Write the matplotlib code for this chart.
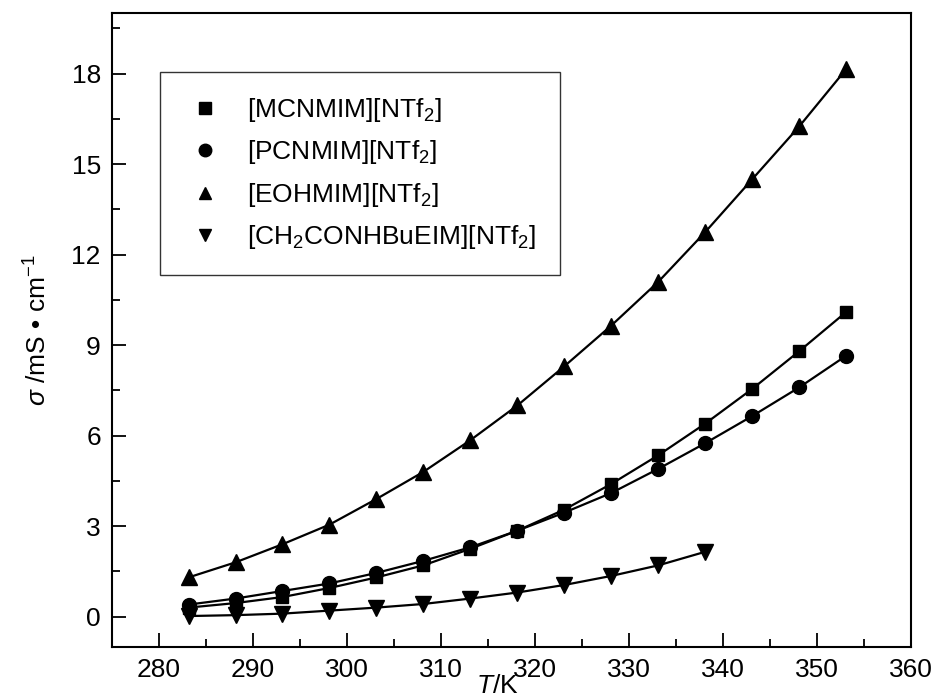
import matplotlib
matplotlib.use("Agg")
import matplotlib.pyplot as plt
from matplotlib.ticker import MultipleLocator

plt.rcParams["font.family"] = ["Liberation Sans", "DejaVu Sans"]
plt.rcParams["mathtext.fontset"] = "custom"
plt.rcParams["mathtext.rm"] = "Liberation Sans"
plt.rcParams["mathtext.it"] = "Liberation Sans:italic"
plt.rcParams["mathtext.default"] = "regular"

# temperatures (K)
T = [283.15, 288.15, 293.15, 298.15, 303.15, 308.15, 313.15, 318.15,
     323.15, 328.15, 333.15, 338.15, 343.15, 348.15, 353.15]
T_amide = T[:12]

# conductivity (mS/cm)
mcnmim = [0.30, 0.45, 0.65, 0.95, 1.30, 1.70, 2.25, 2.85,
          3.55, 4.40, 5.35, 6.40, 7.55, 8.80, 10.10]
pcnmim = [0.40, 0.60, 0.85, 1.10, 1.45, 1.85, 2.30, 2.85,
          3.45, 4.10, 4.90, 5.75, 6.65, 7.60, 8.65]
eohmim = [1.30, 1.80, 2.40, 3.05, 3.90, 4.80, 5.85, 7.00,
          8.30, 9.65, 11.10, 12.75, 14.50, 16.25, 18.15]
amide = [0.02, 0.05, 0.10, 0.20, 0.30, 0.42, 0.60, 0.80,
         1.05, 1.35, 1.70, 2.15]

labels = [r"[MCNMIM][NTf$_2$]", r"[PCNMIM][NTf$_2$]",
          r"[EOHMIM][NTf$_2$]", r"[CH$_2$CONHBuEIM][NTf$_2$]"]

fig = plt.figure(figsize=(9.33, 6.97), dpi=100)
ax = fig.add_axes([0.120, 0.072, 0.856, 0.909])

series = [(T, mcnmim, "s", 9), (T, pcnmim, "o", 10),
          (T, eohmim, "^", 11), (T_amide, amide, "v", 11)]
for (x, y, m, ms), lab in zip(series, labels):
    ax.plot(x, y, color="black", lw=1.6, marker=m, ms=ms, label=lab)

ax.set_xlim(275, 360)
ax.set_ylim(-1, 20)
ax.xaxis.set_major_locator(MultipleLocator(10))
ax.xaxis.set_minor_locator(MultipleLocator(5))
ax.yaxis.set_major_locator(MultipleLocator(3))
ax.yaxis.set_minor_locator(MultipleLocator(1.5))
ax.tick_params(which="both", direction="in", top=False, right=False,
               labelsize=19, width=1.3)
ax.tick_params(which="major", length=10, pad=8)
ax.tick_params(which="minor", length=6)
for sp in ax.spines.values():
    sp.set_linewidth(1.5)

ax.set_xlabel(r"$\mathit{T}$/K", fontsize=19)
ax.xaxis.set_label_coords(0.482, -0.043)
ax.set_ylabel(r"$\mathit{\sigma}$ /mS • cm$^{-1}$", fontsize=19, labelpad=14)

leg = ax.legend(loc="upper left", bbox_to_anchor=(0.060, 0.907),
                fontsize=19, frameon=True, fancybox=False,
                edgecolor="black", borderpad=0.9, labelspacing=0.55,
                handlelength=1.6, handletextpad=0.8, borderaxespad=0)
leg.get_frame().set_linewidth(1.0)
for h in leg.legend_handles:
    h.set_linestyle("none")
    h.set_markersize(9)

fig.savefig("out.png", dpi=100)
